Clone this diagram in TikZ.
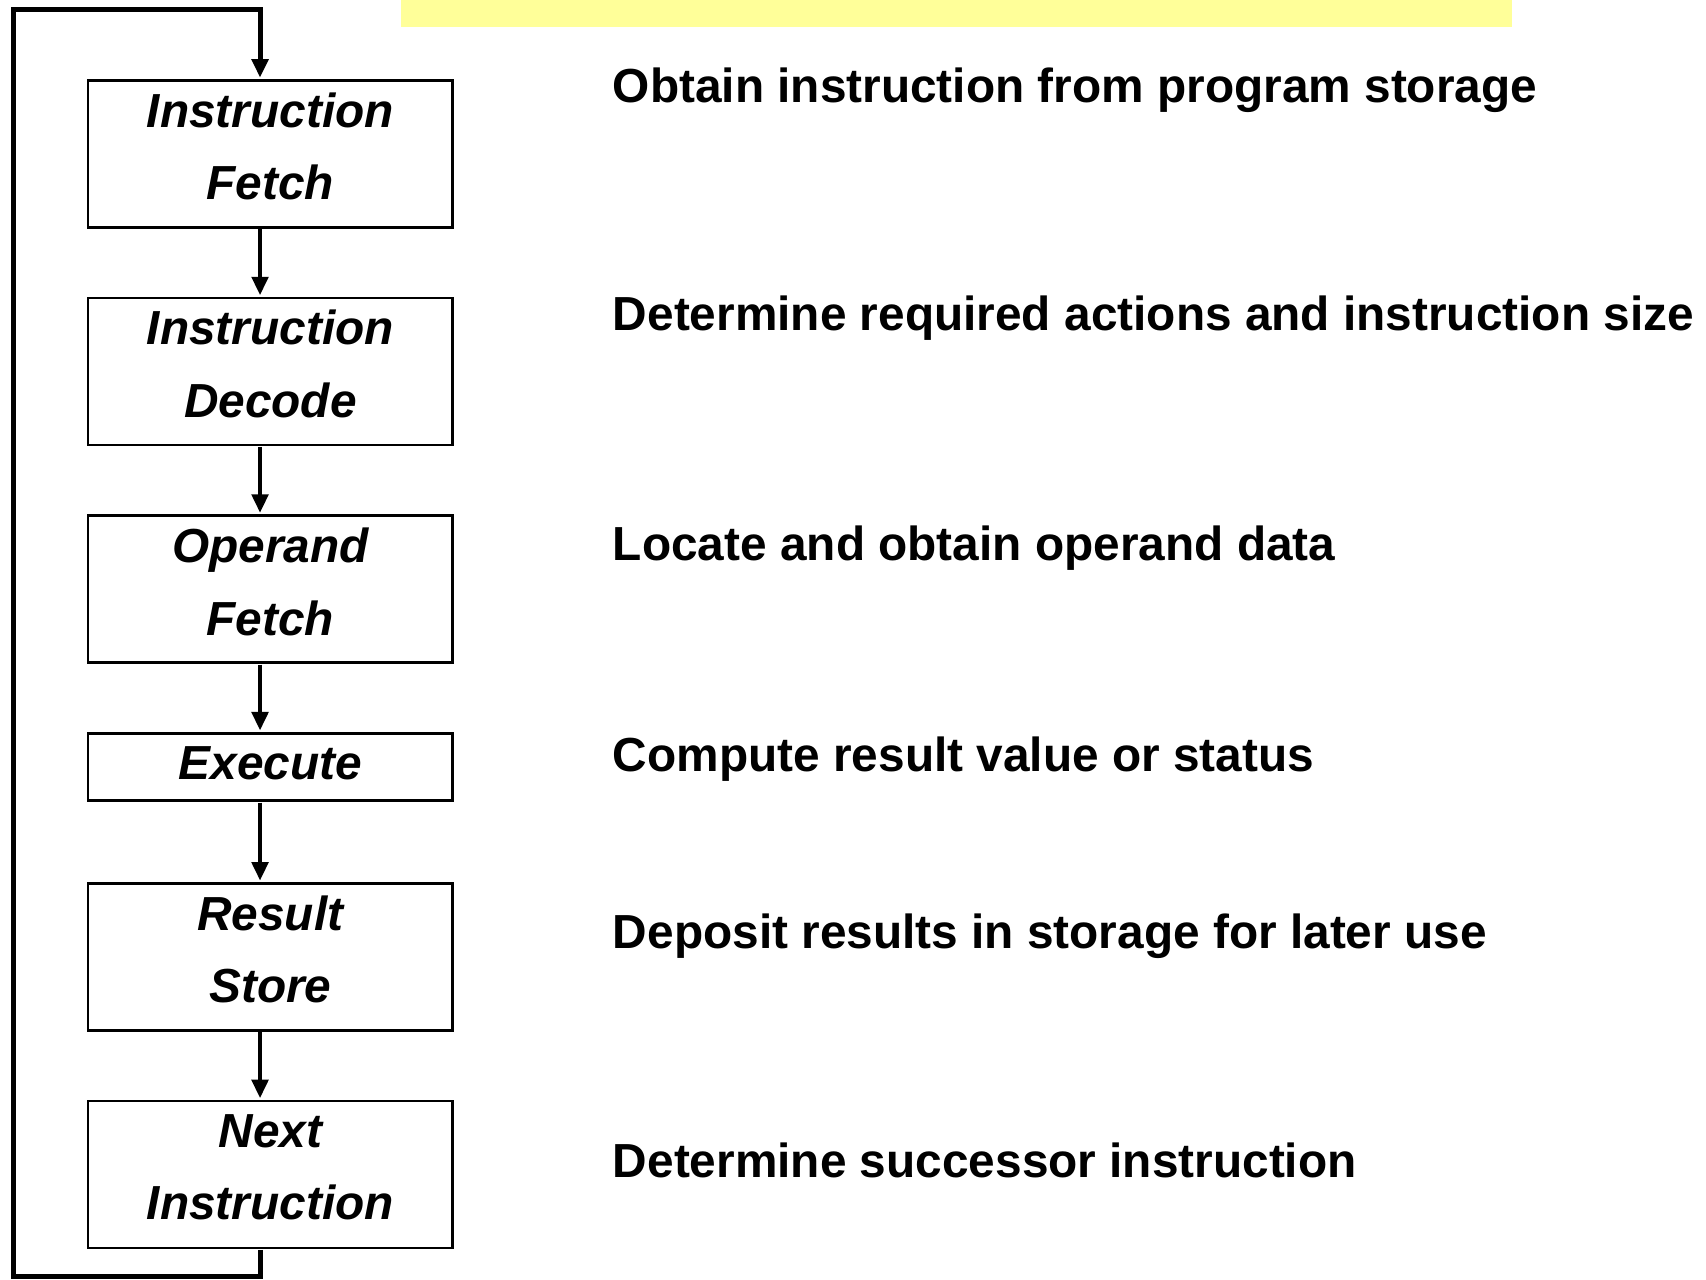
\documentclass[tikz,border=0pt]{standalone}
\usepackage{fontspec}
\setmainfont{Liberation Sans}
\usetikzlibrary{arrows.meta,positioning}
\definecolor{cybar}{HTML}{FFFF99}

\begin{document}
\begin{tikzpicture}[node distance=1.3cm,
    stage/.style={draw, rectangle, line width=1.4pt, outer sep=0pt, minimum width=6.7cm, minimum height=2.7cm,
      align=center, inner sep=0pt, text depth=0.28cm,
      font=\fontsize{25}{38}\selectfont\bfseries\itshape},
    note/.style={anchor=base west, inner sep=0pt, font=\fontsize{25}{30}\selectfont\bfseries},
    flow/.style={line width=2.2pt, shorten <=1pt, shorten >=1.5pt, -{Triangle[length=0.34cm, width=0.3cm]}}]
      \useasboundingbox (0,0) rectangle (31.36,-23.52);
      \fill[cybar] (7.38,0) rectangle (27.8,-0.5);

      % Nodes
      \node[stage] (ifetch) at (4.97,-2.83) {Instruction\\Fetch};
      \node[stage, below=of ifetch] (idecode) {Instruction\\Decode};
      \node[stage, below=of idecode] (ofetch) {Operand\\Fetch};
      \node[stage, minimum height=1.24cm, text depth=0.16cm, below=of ofetch] (exec) {Execute};
      \node[stage, below=1.52cm of exec] (rstore) {Result\\Store};
      \node[stage, below=of rstore] (nextinstr) {Next\\Instruction};

      % Notes
      \node[note] (n1) at (11.26,-1.88) {Obtain instruction from program storage};
      \node[note] (n2) at (11.26,-6.08) {Determine required actions and instruction size};
      \node[note] (n3) at (11.26,-10.30) {Locate and obtain operand data};
      \node[note] (n4) at (11.26,-14.18) {Compute result value or status};
      \node[note] (n5) at (11.26,-17.44) {Deposit results in storage for later use};
      \node[note] (n6) at (11.26,-21.64) {Determine successor instruction};

      % Arrows
      \draw[flow] ([xshift=-0.19cm]ifetch.south) -- ([xshift=-0.19cm]idecode.north);
      \draw[flow] ([xshift=-0.19cm]idecode.south) -- ([xshift=-0.19cm]ofetch.north);
      \draw[flow] ([xshift=-0.19cm]ofetch.south) -- ([xshift=-0.19cm]exec.north);
      \draw[flow] ([xshift=-0.19cm]exec.south) -- ([xshift=-0.19cm]rstore.north);
      \draw[flow] ([xshift=-0.19cm]rstore.south) -- ([xshift=-0.19cm]nextinstr.north);

      % Loop back
      \coordinate (loopbot) at (0.24,-23.46);
      \coordinate (looptop) at (0.24,-0.18);
      \draw[flow, line width=2.6pt] ([xshift=-0.19cm]nextinstr.south) |- (loopbot) -- (looptop) -| ([xshift=-0.19cm]ifetch.north);
    \end{tikzpicture}
\end{document}
